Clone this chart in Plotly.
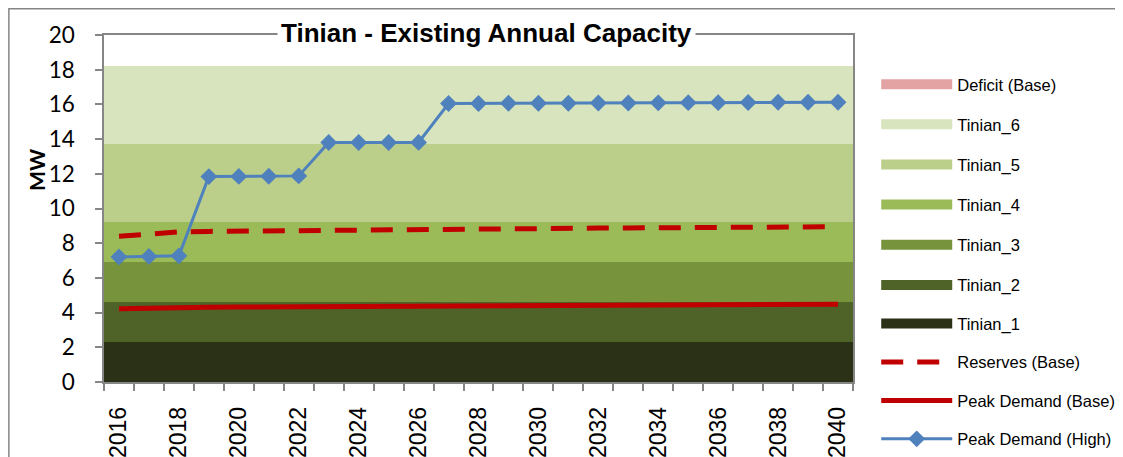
import plotly.graph_objects as go

# ---- data ----
years = [2016, 2017, 2018, 2019, 2020, 2021, 2022, 2023, 2024, 2025, 2026, 2027, 2028,
         2029, 2030, 2031, 2032, 2033, 2034, 2035, 2036, 2037, 2038, 2039, 2040]

# existing units, stacked MW (constant over the horizon)
tinian_1 = [2.3] * len(years)
tinian_2 = [2.3] * len(years)
tinian_3 = [2.3] * len(years)
tinian_4 = [2.3] * len(years)
tinian_5 = [4.5] * len(years)
tinian_6 = [4.5] * len(years)
deficit_base = [0] * len(years)

reserves_base = [8.40, 8.55, 8.65, 8.68, 8.70, 8.72, 8.74, 8.75, 8.77, 8.78, 8.80, 8.81, 8.82,
                 8.84, 8.85, 8.86, 8.87, 8.88, 8.89, 8.90, 8.91, 8.92, 8.93, 8.94, 8.95]
peak_base = [4.22, 4.27, 4.30, 4.31, 4.32, 4.33, 4.34, 4.35, 4.36, 4.37, 4.38, 4.39, 4.40,
             4.40, 4.41, 4.42, 4.43, 4.43, 4.44, 4.45, 4.46, 4.46, 4.47, 4.48, 4.48]
peak_high = [7.21, 7.24, 7.27, 11.84, 11.85, 11.86, 11.88, 13.80, 13.80, 13.80, 13.81, 16.05, 16.05,
             16.07, 16.07, 16.07, 16.08, 16.08, 16.09, 16.10, 16.10, 16.11, 16.12, 16.12, 16.12]

units = [
    ("Tinian_1", tinian_1, "#2A3117"),
    ("Tinian_2", tinian_2, "#4F6228"),
    ("Tinian_3", tinian_3, "#77933C"),
    ("Tinian_4", tinian_4, "#9BBB59"),
    ("Tinian_5", tinian_5, "#BBCF8B"),
    ("Tinian_6", tinian_6, "#D7E4BD"),
]

ARIAL = "Liberation Sans, Arial, sans-serif"
CAL = "Lato, Carlito, Calibri, sans-serif"
GRID = "#868686"

fig = go.Figure()

# stacked capacity bands (full category width)
for name, vals, col in units:
    fig.add_trace(go.Bar(
        x=years, y=vals, width=1, name=name,
        marker=dict(color=col, line=dict(width=0)),
        showlegend=False, hoverinfo="skip"
    ))

# deficit (zero everywhere)
fig.add_trace(go.Bar(
    x=years, y=deficit_base, width=1, name="Deficit (Base)",
    marker=dict(color="#E6A0A0", line=dict(width=0)),
    showlegend=False, hoverinfo="skip"
))

# legend entries, split over two legend boxes
legend_items = [("Deficit (Base)", "#E3A3A3")] + [(n, c) for n, _, c in reversed(units)]
for i, (name, col) in enumerate(legend_items):
    fig.add_trace(go.Scatter(
        x=[None], y=[None], mode="lines", name=name,
        line=dict(color=col, width=11),
        legend="legend" if i < 5 else "legend2",
        legendrank=i + 1, legendgroup=name
    ))

fig.add_trace(go.Scatter(
    x=years, y=reserves_base, mode="lines", name="Reserves (Base)",
    line=dict(color="#C00000", width=5, dash="22px,14px"),
    legend="legend2", legendrank=20, legendgroup="res"
))
fig.add_trace(go.Scatter(
    x=years, y=peak_base, mode="lines", name="Peak Demand (Base)",
    line=dict(color="#C00000", width=5),
    legend="legend2", legendrank=21, legendgroup="pb"
))
fig.add_trace(go.Scatter(
    x=years, y=peak_high, mode="lines+markers", name="Peak Demand (High)",
    line=dict(color="#4F81BD", width=3),
    marker=dict(symbol="diamond", size=13, color="#4F81BD"),
    legend="legend2", legendrank=22, legendgroup="ph"
))

leg_common = dict(
    xanchor="left", yanchor="top",
    font=dict(family=ARIAL, size=16.5, color="black"),
    itemwidth=71,
    bgcolor="rgba(0,0,0,0)"
)

# page body has an 8px margin, so the figure is sized/offset to compensate
fig.update_layout(
    width=1115, height=449,
    margin=dict(l=96, r=270, t=27, b=75, autoexpand=False),
    paper_bgcolor="white", plot_bgcolor="white",
    barmode="stack", bargap=0,
    showlegend=True,
    legend=dict(x=1.031, y=0.908, tracegroupgap=15.7, **leg_common),
    legend2=dict(x=1.031, y=0.329, tracegroupgap=14, **leg_common),
    xaxis=dict(
        range=[2015.5, 2040.5], tickmode="linear", tick0=2016, dtick=2,
        ticks="", tickangle=-90, ticklabelstandoff=14,
        tickfont=dict(family=ARIAL, size=23, color="black"),
        showgrid=False, zeroline=False,
        showline=True, linecolor=GRID, linewidth=1.5, mirror=True,
        minor=dict(ticks="outside", tick0=2015.5, dtick=1, ticklen=7,
                   tickcolor=GRID, tickwidth=1.5, showgrid=False)
    ),
    yaxis=dict(
        range=[0, 20], tickmode="linear", tick0=0, dtick=2,
        ticks="outside", ticklen=7, tickcolor=GRID, tickwidth=1.5,
        ticklabelstandoff=16,
        tickfont=dict(family=CAL, size=22.5, color="black"),
        showgrid=False, zeroline=False,
        showline=True, linecolor=GRID, linewidth=1.5, mirror=True
    ),
    annotations=[
        dict(text="<b>Tinian - Existing Annual Capacity</b>", xref="paper", yref="paper",
             x=0.511, y=1.006, xanchor="center", yanchor="middle", showarrow=False,
             font=dict(family=ARIAL, size=26, color="black"),
             bgcolor="white", borderpad=3),
        dict(text="<b>MW</b>", xref="paper", yref="paper",
             x=-0.09, y=0.61, xanchor="center", yanchor="middle", showarrow=False,
             textangle=-90, font=dict(family=CAL, size=21, color="black")),
    ],
    shapes=[
        dict(type="rect", xref="paper", yref="paper",
             x0=-0.127, y0=-0.5, x1=1.6, y1=1.0756,
             line=dict(color=GRID, width=1.5), fillcolor="rgba(0,0,0,0)", layer="below"),
    ],
)

fig.write_html("out.html")
